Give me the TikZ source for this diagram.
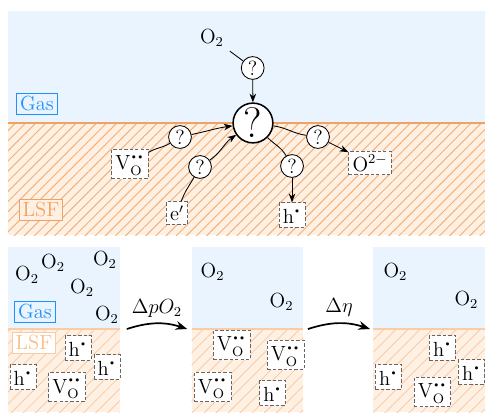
\documentclass[tikz,border=0pt]{standalone}
\usepackage{amsmath,amssymb,bm}
\usetikzlibrary{positioning,arrows.meta,patterns.meta}
\definecolor{gasbg}{RGB}{234,244,254}
\definecolor{gasblue}{RGB}{30,144,255}
\definecolor{lsfbg}{RGB}{255,240,228}
\definecolor{lsforange}{RGB}{242,162,96}
\definecolor{lsfhatch}{RGB}{246,176,118}
\definecolor{lsflight}{RGB}{250,204,166}
\newcommand{\kvdot}{{\textstyle\bm{\cdot}}}
\newcommand{\Vo}{$\mathrm{V}_{\mathrm{O}}^{\kvdot\kvdot}$}
\newcommand{\hh}{$\mathrm{h}^{\kvdot}$}
\newcommand{\Otwo}{$\mathrm{O}_2$}
\tikzset{
  gasband/.style={fill=gasbg},
  lsfband/.style={fill=lsfbg,postaction={pattern={Lines[angle=45,distance=4.2pt,line width=0.6pt]},pattern color=lsfhatch}},
  lsfsoft/.style={fill=lsfbg,postaction={pattern={Lines[angle=45,distance=5pt,line width=0.5pt]},pattern color=lsflight}},
  iface/.style={line width=1.2pt,lsforange},
  ifacesoft/.style={line width=0.8pt,lsflight},
  gaslbl/.style={draw=gasblue,text=gasblue,line width=0.6pt,inner sep=2pt},
  lsflbl/.style={draw=lsforange,text=lsforange,fill=lsfbg,line width=0.6pt,inner sep=2pt},
  lsflblsoft/.style={draw=lsflight,text=lsflight!80!orange,fill=white,line width=0.6pt,inner sep=2pt},
  defect/.style={draw=black!60,dash pattern=on 2pt off 1.2pt,fill=white,inner sep=2.2pt,line width=0.5pt},
  qstep/.style={circle,draw,fill=white,minimum size=0.47cm,inner sep=0pt,line width=0.5pt},
  qbig/.style={circle,draw,fill=white,minimum size=0.82cm,inner sep=0pt,line width=0.9pt,font=\fontsize{25}{30}\selectfont},
  arr/.style={-{Stealth[length=1.8mm]},line width=0.5pt},
  shiftarr/.style={-{Stealth[length=2.4mm]},line width=1pt},
}
\begin{document}
\begin{tikzpicture}[every node/.style={font=\large}]
  \useasboundingbox (0,0) rectangle (10,8.495);
  % surface reaction panel
  \fill[gasband] (0.165,5.959) rectangle (10,8.268);
  \fill[lsfband] (0.165,3.649) rectangle (10,5.959);
  \draw[iface] (0.165,5.959) -- (10,5.959);
  \node[gaslbl] (gas) at (0.763,6.351) {Gas};
  \node[lsflbl] (lsf) at (0.845,4.165) {LSF};
  \node (o2) at (4.371,7.711) {\Otwo};
  \node[qstep] (q1) at (5.21,7.093) {?};
  \node[qbig] (big) at (5.216,5.959) {?};
  \node[qstep] (qV) at (3.711,5.670) {?};
  \node[defect] (vbox) at (2.680,5.113) {\Vo};
  \node[qstep] (qe) at (4.124,5.052) {?};
  \node[defect] (ebox) at (3.649,4.103) {$\mathrm{e}'$};
  \node[qstep] (qh) at (6.021,5.072) {?};
  \node[defect] (hbox) at (6.021,4.062) {\hh};
  \node[qstep] (qO) at (6.557,5.670) {?};
  \node[defect] (obox) at (7.629,5.134) {$\mathrm{O}^{2-}$};
  \draw[line width=0.5pt] (o2) -- (q1);
  \draw[arr] (q1) -- (big);
  \draw[line width=0.5pt] (vbox) to[out=32,in=212] (qV);
  \draw[arr] (qV) to[out=12,in=188] (big);
  \draw[line width=0.5pt] (ebox) to[out=70,in=240] (qe);
  \draw[arr] (qe) to[out=35,in=215] (big);
  \draw[line width=0.5pt] (big) to[out=-45,in=120] (qh);
  \draw[arr] (qh) -- (hbox);
  \draw[line width=0.5pt] (big) to[out=-8,in=172] (qO);
  \draw[arr] (qO) -- (obox);
  % before
  \begin{scope}[shift={(0.165,0)}]
    \fill[gasband] (0,1.711) rectangle (2.3,3.402);
    \fill[lsfsoft] (0,0) rectangle (2.3,1.711);
    \draw[ifacesoft] (0,1.711) -- (2.3,1.711);
    \coordinate (p1r) at (2.45,1.711);
    \node (a1) at (0.392,2.825) {\Otwo};
    \node (a2) at (0.928,3.072) {\Otwo};
    \node (a3) at (2.0,3.134) {\Otwo};
    \node (a4) at (1.526,2.557) {\Otwo};
    \node (a5) at (2.041,2.0) {\Otwo};
    \node[gaslbl] (gas1) at (0.557,2.062) {Gas};
    \node[lsflblsoft] (lsf1) at (0.536,1.423) {LSF};
    \node[defect] (ah1) at (1.443,1.320) {\hh};
    \node[defect] (ah2) at (0.309,0.722) {\hh};
    \node[defect] (ah3) at (2.041,0.928) {\hh};
    \node[defect] (av1) at (1.216,0.515) {\Vo};
  \end{scope}
  % after pO2 step
  \begin{scope}[shift={(3.95,0)}]
    \fill[gasband] (0,1.711) rectangle (2.3,3.402);
    \fill[lsfsoft] (0,0) rectangle (2.3,1.711);
    \draw[ifacesoft] (0,1.711) -- (2.3,1.711);
    \coordinate (p2l) at (-0.09,1.711);
    \coordinate (p2r) at (2.40,1.711);
    \node (b1) at (0.433,2.887) {\Otwo};
    \node (b2) at (1.855,2.268) {\Otwo};
    \node[defect] (bv1) at (0.825,1.381) {\Vo};
    \node[defect] (bv2) at (0.433,0.515) {\Vo};
    \node[defect] (bv3) at (1.938,1.175) {\Vo};
    \node[defect] (bh1) at (1.670,0.392) {\hh};
  \end{scope}
  % after eta step
  \begin{scope}[shift={(7.7,0)}]
    \fill[gasband] (0,1.711) rectangle (2.3,3.402);
    \fill[lsfsoft] (0,0) rectangle (2.3,1.711);
    \draw[ifacesoft] (0,1.711) -- (2.3,1.711);
    \coordinate (p3l) at (-0.07,1.711);
    \node (c1) at (0.454,2.887) {\Otwo};
    \node (c2) at (1.918,2.309) {\Otwo};
    \node[defect] (ch1) at (1.423,1.320) {\hh};
    \node[defect] (ch2) at (0.309,0.722) {\hh};
    \node[defect] (ch3) at (2.021,0.825) {\hh};
    \node[defect] (cv1) at (1.216,0.412) {\Vo};
  \end{scope}
  \draw[shiftarr] (p1r) to[bend left=18] node[above=0pt] {$\Delta pO_2$} (p2l);
  \draw[shiftarr] (p2r) to[bend left=18] node[above=0pt] {$\Delta\eta$} (p3l);
\end{tikzpicture}
\end{document}
